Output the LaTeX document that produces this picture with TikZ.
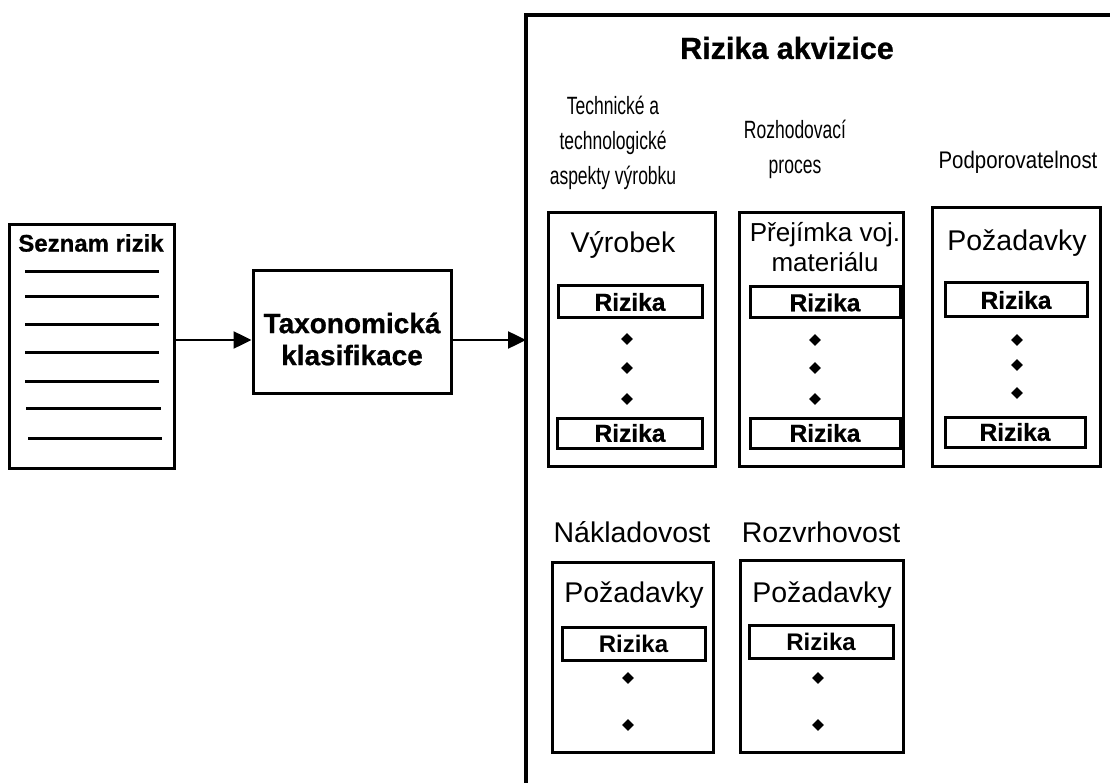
\documentclass[tikz,border=0pt]{standalone}
\usepackage{fontspec}
\setmainfont{Liberation Sans}
\newfontfamily\narrowfont[FakeStretch=0.7]{Liberation Sans}
\newfontfamily\midnarrowfont[FakeStretch=0.85]{Liberation Sans}
\newfontfamily\heavyfont[FakeBold=0.8]{Liberation Sans Bold}
\usetikzlibrary{arrows.meta,shapes.geometric}
\tikzset{
  box/.style={draw, line width=3pt, inner sep=0pt},
  rbox/.style={draw, line width=3pt, inner sep=0pt, font=\heavyfont\fontsize{24.5}{24}\selectfont},
  rboxlow/.style={draw, line width=3pt, inner sep=0pt, font=\fontsize{24}{24}\selectfont\bfseries},
  hdr/.style={align=center, inner sep=0pt, font=\narrowfont\fontsize{25}{35}\selectfont},
  btitle/.style={align=center, inner sep=0pt, font=\fontsize{28.5}{30}\selectfont},
  dotn/.style={diamond, fill, inner sep=0pt, minimum size=12pt},
  arr/.style={line width=2.5pt, -{Triangle[length=18pt,width=17pt]}},
  listline/.style={line width=3pt}
}
\begin{document}
\begin{tikzpicture}[x=1pt,y=-1pt]
\useasboundingbox (0,0) rectangle (1110,783);
% list of risks
\node[box, minimum width=165pt, minimum height=243pt] (seznam) at (91.5,346.5) {};
\node[inner sep=0pt, font=\heavyfont\fontsize{24}{24}\selectfont] (seznamT) at (91,243) {Seznam rizik};
\foreach \yy/\xa/\xb in {272/25/159, 297/25/159, 324/25/159, 352/25/159, 381/25/159, 408/26/161, 438/28/162}
  \draw[listline] (\xa,\yy) -- (\xb,\yy);
% taxonomy
\node[box, minimum width=198pt, minimum height=122pt] (tax) at (352,332) {};
\node[align=center, inner sep=0pt, font=\heavyfont\fontsize{28}{32}\selectfont] (taxT) at (352,339) {Taxonomická\\klasifikace};
% big frame
\coordinate (bigTL) at (526,15);
\coordinate (bigBL) at (526,790);
\coordinate (bigTR) at (1115,15);
\coordinate (bigL) at (526,340);
\draw[line width=4pt] (bigBL) -- (bigTL) -- (bigTR);
\draw[arr] (seznam.east |- 0,340) -- (tax.west |- 0,340);
\draw[arr] (tax.east |- 0,340) -- (bigL);
\node[inner sep=0pt, font=\heavyfont\fontsize{30.5}{32}\selectfont] (title) at (787,48) {Rizika akvizice};
% headers
\node[hdr] (h1) at (613,143) {Technické a\\technologické\\aspekty výrobku};
\node[hdr] (h2) at (795,149) {Rozhodovací\\proces};
\node[inner sep=0pt, font=\midnarrowfont\fontsize{24}{35}\selectfont] (h3) at (1018,162) {Podporovatelnost};
\node[inner sep=0pt, font=\fontsize{28.5}{30}\selectfont] (h4) at (632,532) {Nákladovost};
\node[inner sep=0pt, font=\fontsize{28.5}{30}\selectfont] (h5) at (821,532) {Rozvrhovost};
% box 1
\node[box, minimum width=167pt, minimum height=253pt] (b1) at (631.5,339.5) {};
\node[btitle] (b1t) at (623,245) {Výrobek};
\node[rbox, minimum width=144pt, minimum height=32pt] (b1r1) at (630,302) {Rizika};
\node[dotn] (b1d1) at (627,339) {};
\node[dotn] (b1d2) at (627,368) {};
\node[dotn] (b1d3) at (627,399) {};
\node[rbox, minimum width=145pt, minimum height=30pt] (b1r2) at (630,433) {Rizika};
% box 2
\node[box, minimum width=164pt, minimum height=253pt] (b2) at (821,339.5) {};
\node[align=center, inner sep=0pt, font=\fontsize{26}{30}\selectfont] (b2t) at (825,247) {Přejímka voj.\\materiálu};
\node[rbox, minimum width=150pt, minimum height=31pt] (b2r1) at (825,302.5) {Rizika};
\node[dotn] (b2d1) at (815,340) {};
\node[dotn] (b2d2) at (815,368) {};
\node[dotn] (b2d3) at (815,399) {};
\node[rbox, minimum width=150pt, minimum height=30pt] (b2r2) at (825,433) {Rizika};
% box 3
\node[box, minimum width=168pt, minimum height=258pt] (b3) at (1016,337) {};
\node[btitle] (b3t) at (1017,243) {Požadavky};
\node[rbox, minimum width=142pt, minimum height=34pt] (b3r1) at (1016,300) {Rizika};
\node[dotn] (b3d1) at (1017,340) {};
\node[dotn] (b3d2) at (1017,365) {};
\node[dotn] (b3d3) at (1017,393) {};
\node[rbox, minimum width=140pt, minimum height=30pt] (b3r2) at (1015,432) {Rizika};
% box 4
\node[box, minimum width=161pt, minimum height=190pt] (b4) at (632.5,657) {};
\node[btitle] (b4t) at (634,595) {Požadavky};
\node[rboxlow, minimum width=143pt, minimum height=33pt] (b4r1) at (633.5,643.5) {Rizika};
\node[dotn] (b4d1) at (628,678) {};
\node[dotn] (b4d2) at (628,725) {};
% box 5
\node[box, minimum width=163pt, minimum height=192pt] (b5) at (821.5,656) {};
\node[btitle] (b5t) at (822,595) {Požadavky};
\node[rboxlow, minimum width=144pt, minimum height=33pt] (b5r1) at (821,641.5) {Rizika};
\node[dotn] (b5d1) at (818,678) {};
\node[dotn] (b5d2) at (818,725) {};
\end{tikzpicture}
\end{document}
